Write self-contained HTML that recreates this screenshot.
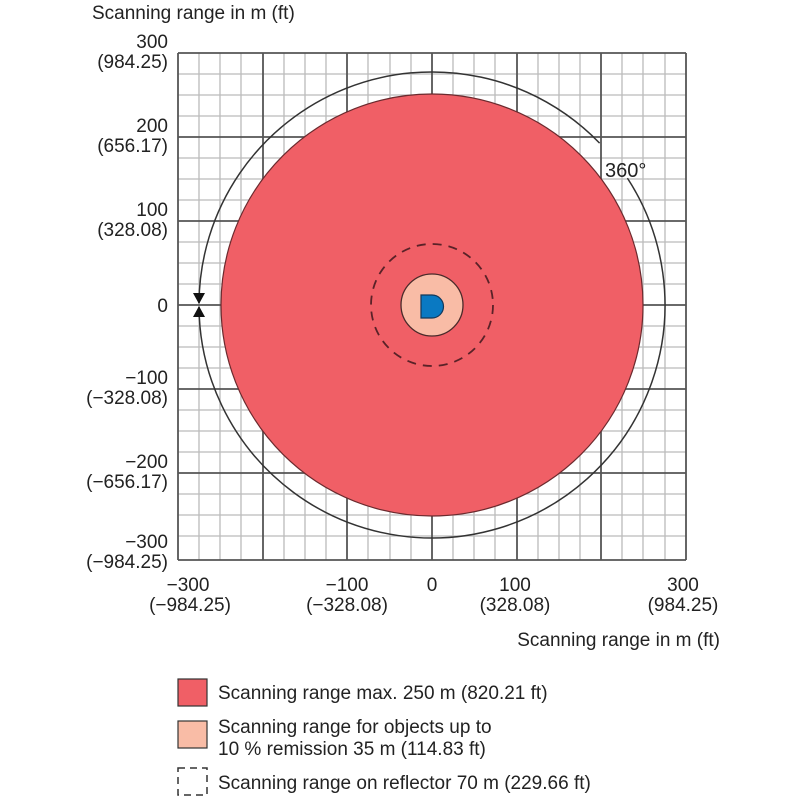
<!DOCTYPE html><html><head><style>body{margin:0;background:#fff}svg text{font-family:"Liberation Sans",sans-serif;fill:#222}</style></head><body>
<svg width="800" height="800" xmlns="http://www.w3.org/2000/svg">
<g stroke="#bbb" stroke-width="1.3">
<path d="M199 53V560M220 53V560M241 53V560M284 53V560M305 53V560M326 53V560M368 53V560M390 53V560M411 53V560M453 53V560M474 53V560M495 53V560M538 53V560M559 53V560M580 53V560M622 53V560M643 53V560M665 53V560"/>
<path d="M178 74H686M178 95H686M178 116H686M178 158H686M178 179H686M178 200H686M178 242H686M178 263H686M178 284H686M178 326H686M178 347H686M178 368H686M178 410H686M178 431H686M178 452H686M178 494H686M178 515H686M178 536H686"/>
</g>
<g stroke="#555" stroke-width="1.8" fill="none">
<path d="M178 53V560M263 53V560M347 53V560M432 53V560M517 53V560M601 53V560M686 53V560"/>
<path d="M178 53H686M178 137H686M178 221H686M178 305H686M178 389H686M178 473H686M178 560H686"/>
</g>
<path d="M627.4 178.1 A233 233 0 1 1 199 307" fill="none" stroke="#333" stroke-width="1.5"/>
<path d="M199 303 A233 233 0 0 1 599.6 143.1" fill="none" stroke="#333" stroke-width="1.5"/>
<path d="M193 293H205L199 304Z M193 317H205L199 306Z" fill="#111"/>
<circle cx="432" cy="305" r="211" fill="#f05f66" stroke="#6b2a2e" stroke-width="1.2"/>
<circle cx="432" cy="305" r="61" fill="none" stroke="#5a2228" stroke-width="1.8" stroke-dasharray="9 7"/>
<circle cx="432" cy="305" r="31" fill="#f9bca6" stroke="#4a2a2a" stroke-width="1.3"/>
<path d="M421 295H432A11.5 11.5 0 0 1 432 318H421Z" fill="#0a79c2" stroke="#13385a" stroke-width="1.2"/>
<text x="605" y="177" font-size="20">360°</text>
<text x="92" y="19" font-size="19">Scanning range in m (ft)</text>
<g font-size="19" text-anchor="end">
<text x="168" y="48">300</text><text x="168" y="68">(984.25)</text>
<text x="168" y="132">200</text><text x="168" y="152">(656.17)</text>
<text x="168" y="216">100</text><text x="168" y="236">(328.08)</text>
<text x="168" y="312">0</text>
<text x="168" y="384">−100</text><text x="168" y="404">(−328.08)</text>
<text x="168" y="468">−200</text><text x="168" y="488">(−656.17)</text>
<text x="168" y="548">−300</text><text x="168" y="568">(−984.25)</text>
</g>
<g font-size="19" text-anchor="middle">
<text x="188" y="591">−300</text><text x="190" y="611">(−984.25)</text>
<text x="347" y="591">−100</text><text x="347" y="611">(−328.08)</text>
<text x="432" y="591">0</text>
<text x="515" y="591">100</text><text x="515" y="611">(328.08)</text>
<text x="683" y="591">300</text><text x="683" y="611">(984.25)</text>
</g>
<text x="720" y="646" font-size="19" text-anchor="end">Scanning range in m (ft)</text>
<rect x="178" y="679" width="29" height="27" fill="#f05f66" stroke="#333" stroke-width="1.2"/>
<rect x="178" y="721" width="29" height="27" fill="#f9bca6" stroke="#333" stroke-width="1.2"/>
<rect x="178" y="768" width="29" height="27" fill="none" stroke="#333" stroke-width="1.5" stroke-dasharray="7 5"/>
<g font-size="19">
<text x="218" y="699">Scanning range max. 250 m (820.21 ft)</text>
<text x="218" y="733">Scanning range for objects up to</text>
<text x="218" y="755">10 % remission 35 m (114.83 ft)</text>
<text x="218" y="789">Scanning range on reflector 70 m (229.66 ft)</text>
</g>
</svg></body></html>
